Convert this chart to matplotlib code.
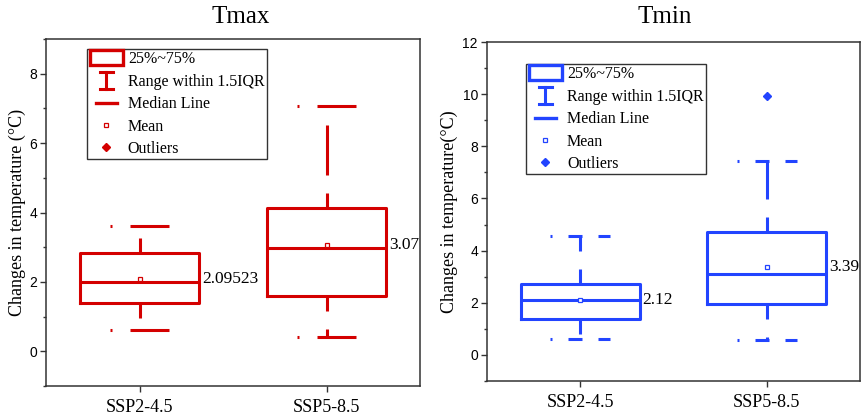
import matplotlib
matplotlib.use("Agg")
import matplotlib.pyplot as plt
from matplotlib.patches import Patch, Rectangle
from matplotlib.lines import Line2D
from matplotlib.legend_handler import HandlerBase
from matplotlib.ticker import MultipleLocator

plt.rcParams['lines.scale_dashes'] = False

# data
categories = ['SSP2-4.5', 'SSP5-8.5']

tmax_q1 = [1.38, 1.60]
tmax_q3 = [2.82, 4.13]
tmax_med = [1.99, 2.97]
tmax_mean = [2.09523, 3.07]
tmax_lo = [0.61, 0.41]
tmax_hi = [3.60, 7.08]
tmax_out = [[], []]
tmax_labels = ['2.09523', '3.07']

tmin_q1 = [1.39, 1.96]
tmin_q3 = [2.72, 4.73]
tmin_med = [2.11, 3.10]
tmin_mean = [2.12, 3.39]
tmin_lo = [0.60, 0.58]
tmin_hi = [4.57, 7.45]
tmin_out = [[], [9.94]]
tmin_labels = ['2.12', '3.39']

legend_names = ['25%~75%', 'Range within 1.5IQR', 'Median Line', 'Mean', 'Outliers']

RED = '#D40000'
BLUE = '#2244FF'
SERIF = 'Liberation Serif'
SANS = 'Liberation Sans'
PX = 0.72  # points per pixel at dpi 100


class WhiskerKey:
    pass


class MedianKey:
    pass


class WhiskerHandler(HandlerBase):
    def __init__(self, color):
        super().__init__()
        self.color = color

    def create_artists(self, legend, orig_handle, xdescent, ydescent,
                       width, height, fontsize, trans):
        cx = -xdescent + width / 2
        y0 = -ydescent - 0.3 * height
        y1 = -ydescent + 1.2 * height
        cw = 0.2 * width
        arts = [Line2D([cx, cx], [y0, y1], color=self.color, lw=2.2),
                Line2D([cx - cw, cx + cw], [y0, y0], color=self.color, lw=2.2),
                Line2D([cx - cw, cx + cw], [y1, y1], color=self.color, lw=2.2)]
        for a in arts:
            a.set_transform(trans)
        return arts


class MedianHandler(HandlerBase):
    def __init__(self, color):
        super().__init__()
        self.color = color

    def create_artists(self, legend, orig_handle, xdescent, ydescent,
                       width, height, fontsize, trans):
        y = -ydescent + height / 2
        ln = Line2D([-xdescent + 0.18 * width, -xdescent + 0.82 * width], [y, y],
                    color=self.color, lw=2.4)
        ln.set_transform(trans)
        return [ln]


class BoxHandler(HandlerBase):
    def create_artists(self, legend, orig_handle, xdescent, ydescent,
                       width, height, fontsize, trans):
        r = Rectangle((-xdescent, -ydescent - 0.1 * height), width, 1.3 * height,
                      facecolor='white', edgecolor=orig_handle.get_edgecolor(), lw=2.4)
        r.set_transform(trans)
        return [r]


def draw_panel(ax, color, q1, q3, med, mean, lo, hi, out, labels,
               ylim, ymax_tick, cap_dash, legend_xy):
    stats = []
    for i in range(len(categories)):
        stats.append(dict(med=med[i], q1=q1[i], q3=q3[i], mean=mean[i],
                          whislo=lo[i], whishi=hi[i], fliers=out[i],
                          label=categories[i]))
    whisker_ls = (35 * PX, (50 * PX, 18 * PX))
    ax.bxp(stats, positions=[1, 2], widths=0.64, capwidths=0.32,
           showmeans=True, showfliers=True,
           boxprops=dict(color=color, lw=2.2),
           medianprops=dict(color=color, lw=2.2),
           whiskerprops=dict(color=color, lw=2.2, linestyle=whisker_ls),
           capprops=dict(color=color, lw=2.2, linestyle=cap_dash),
           meanprops=dict(marker='s', markersize=3.3, markerfacecolor='white',
                          markeredgecolor=color, markeredgewidth=0.9),
           flierprops=dict(marker='D', markersize=4.5, markerfacecolor=color,
                           markeredgecolor=color))

    for i, lab in enumerate(labels):
        ax.text(i + 1 + 0.335, mean[i], lab, ha='left', va='center',
                fontsize=12.5, family=SERIF, clip_on=True)

    ax.set_xlim(0.5, 2.5)
    ax.set_ylim(*ylim)
    ax.set_yticks(range(0, ymax_tick + 1, 2))
    ax.yaxis.set_minor_locator(MultipleLocator(1))
    ax.set_xticks([1, 2])
    ax.set_xticklabels(categories, family=SERIF, fontsize=13)
    for t in ax.get_yticklabels():
        t.set_family(SANS)
        t.set_fontsize(10)
    ax.tick_params(axis='y', which='major', direction='out', length=4.5,
                   width=1.0, pad=2, color='#333333')
    ax.tick_params(axis='y', which='minor', direction='out', length=2.5,
                   width=1.0, color='#333333')
    ax.tick_params(axis='x', which='major', direction='out', length=4,
                   width=1.0, pad=5.5, color='#333333')
    for sp in ax.spines.values():
        sp.set_color('#333333')
        sp.set_linewidth(1.1)

    handles = [Patch(edgecolor=color, facecolor='white'),
               WhiskerKey(),
               MedianKey(),
               Line2D([], [], linestyle='none', marker='s', markersize=3.3,
                      markerfacecolor='white', markeredgecolor=color, markeredgewidth=0.9),
               Line2D([], [], linestyle='none', marker='D', markersize=4.5,
                      markerfacecolor=color, markeredgecolor=color)]
    leg = ax.legend(handles, legend_names, loc='upper left', bbox_to_anchor=legend_xy,
                    borderaxespad=0, fancybox=False, framealpha=1,
                    prop=dict(family=SERIF, size=11.5),
                    handlelength=2.1, handletextpad=0.3, labelspacing=0.4,
                    borderpad=0.15,
                    handler_map={WhiskerKey: WhiskerHandler(color),
                                 MedianKey: MedianHandler(color),
                                 Patch: BoxHandler()})
    leg.get_frame().set_edgecolor('#333333')
    leg.get_frame().set_linewidth(1.0)


fig = plt.figure(figsize=(8.66, 4.18), dpi=100)
ax1 = fig.add_axes([46 / 866, 32 / 418, 374 / 866, 347 / 418])
ax2 = fig.add_axes([487 / 866, 37 / 418, 373 / 866, 339 / 418])

draw_panel(ax1, RED, tmax_q1, tmax_q3, tmax_med, tmax_mean, tmax_lo, tmax_hi,
           tmax_out, tmax_labels, (-1, 9), 8,
           (48 * PX, (50 * PX, 18 * PX)), (0.11, 0.971))
draw_panel(ax2, BLUE, tmin_q1, tmin_q3, tmin_med, tmin_mean, tmin_lo, tmin_hi,
           tmin_out, tmin_labels, (-1, 12), 12,
           (12 * PX, (14 * PX, 16 * PX)), (0.105, 0.935))

ax1.set_ylabel('Changes in temperature (\u00b0C)', family=SERIF, fontsize=13)
ax1.yaxis.set_label_coords(-0.053, 0.5)
ax2.set_ylabel('Changes in temperature(\u00b0C)', family=SERIF, fontsize=13)
ax2.yaxis.set_label_coords(-0.078, 0.5)

fig.text(241 / 866, 1 - 17 / 418, 'Tmax', ha='center', va='center',
         family=SERIF, fontsize=18)
fig.text(665 / 866, 1 - 17 / 418, 'Tmin', ha='center', va='center',
         family=SERIF, fontsize=18)

fig.savefig('out.png', dpi=100)
